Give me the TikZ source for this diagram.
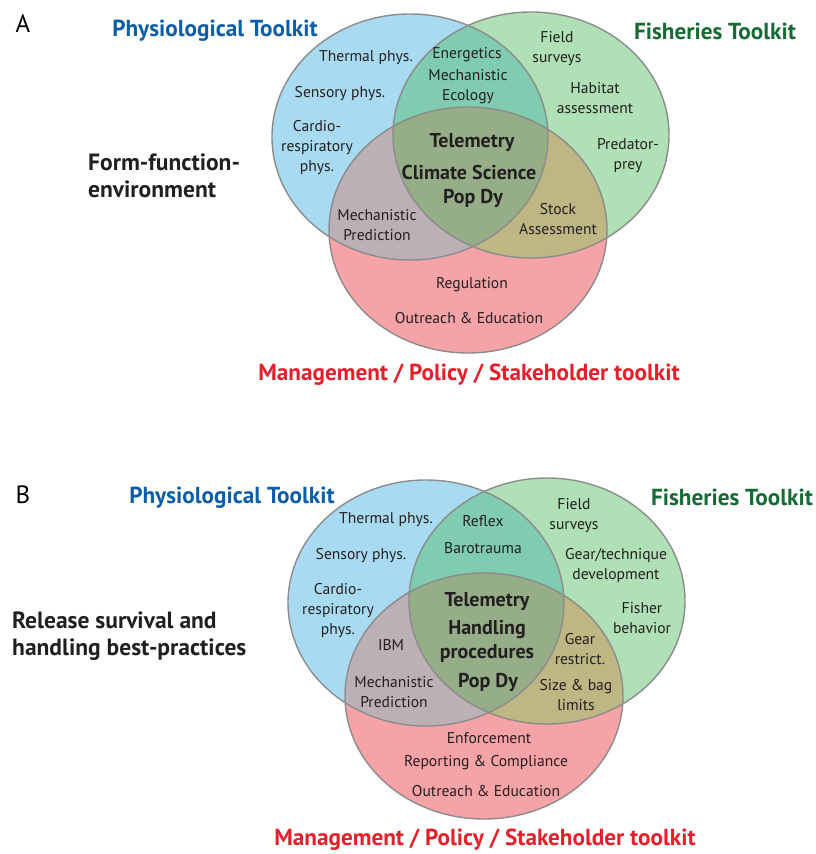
\documentclass[tikz,border=0pt]{standalone}
\usepackage{fontspec}
\setmainfont{PT Sans}
\usetikzlibrary{positioning}
\definecolor{physblue}{RGB}{168,219,241}
\definecolor{fishgreen}{RGB}{176,224,181}
\definecolor{mgmtred}{RGB}{245,163,166}
\definecolor{bluegreen}{RGB}{127,204,176}
\definecolor{bluered}{RGB}{188,176,182}
\definecolor{greenred}{RGB}{190,183,132}
\definecolor{allthree}{RGB}{150,174,135}
\definecolor{ringgray}{RGB}{140,140,140}
\definecolor{txtgray}{RGB}{35,31,32}
\definecolor{kitblue}{RGB}{12,94,170}
\definecolor{kitgreen}{RGB}{22,106,52}
\definecolor{kitred}{RGB}{232,30,42}

\newcommand{\physring}{(410,137) ellipse [x radius=138, y radius=123]}
\newcommand{\fishring}{(531,135) ellipse [x radius=138, y radius=123]}
\newcommand{\mgmtring}{(468,230) ellipse [x radius=139, y radius=123]}
\newcommand{\drawvenn}{%
	\fill[physblue] \physring;
	\fill[fishgreen] \fishring;
	\fill[mgmtred] \mgmtring;
	\begin{scope} \clip \physring; \fill[bluegreen] \fishring; \end{scope}
	\begin{scope} \clip \physring; \fill[bluered] \mgmtring; \end{scope}
	\begin{scope} \clip \fishring; \fill[greenred] \mgmtring; \end{scope}
	\begin{scope} \clip \physring; \clip \fishring; \fill[allthree] \mgmtring; \end{scope}
	\draw[ring] \physring;
	\draw[ring] \fishring;
	\draw[ring] \mgmtring;
}

\tikzset{
	ring/.style={draw=ringgray, line width=1.4pt},
	item/.style={text=txtgray, align=center, inner sep=0pt, font=\fontsize{15.6}{20}\selectfont},
	core/.style={text=txtgray, align=center, inner sep=0pt, font=\bfseries\fontsize{20}{27}\selectfont},
	kit/.style={inner sep=0pt, font=\bfseries\fontsize{23.2}{26}\selectfont},
	theme/.style={text=txtgray, align=left, anchor=west, inner sep=0pt, font=\bfseries\fontsize{23.5}{27}\selectfont},
	panel/.style={text=black, inner sep=0pt, font=\fontsize{25}{27}\selectfont}
}

\begin{document}
\begin{tikzpicture}[x=1pt,y=-1pt]
	\useasboundingbox[fill=white] (0,0) rectangle (816,854);

	% panel A
	\drawvenn
	\node[panel] (A) at (23,24) {A};
	\node[kit, text=kitblue] (physA) at (215,31) {Physiological Toolkit};
	\node[kit, text=kitgreen] (fishA) at (715,31) {Fisheries Toolkit};
	\node[kit, text=kitred] (mgmtA) at (469,375) {Management / Policy / Stakeholder toolkit};
	\node[theme] (themeA) at (88,176) {Form-function-\\environment};

	\node[item] (thermA) at (366,58) {Thermal phys.};
	\node[item] (sensA) at (340,94) {Sensory phys.};
	\node[item] (cardA) at (317,148) {Cardio-\\respiratory\\phys.};
	\node[item] (enerA) at (467,55) {Energetics};
	\node[item] (ecolA) at (468,87) {Mechanistic\\Ecology};
	\node[item] (fieldA) at (557,49) {Field\\surveys};
	\node[item] (habA) at (595,98) {Habitat\\assessment};
	\node[item] (predA) at (628,156) {Predator-\\prey};
	\node[core] (teleA) at (472,143) {Telemetry};
	\node[core] (climA) at (469,172) {Climate Science};
	\node[core] (popA) at (473,198) {Pop Dy};
	\node[item] (mechA) at (377,225) {Mechanistic\\Prediction};
	\node[item] (stockA) at (558,219) {Stock\\Assessment};
	\node[item] (regA) at (472,285) {Regulation};
	\node[item] (outA) at (469,318) {Outreach \& Education};

	% panel B
	\begin{scope}[shift={(16,466)}]
		\drawvenn
	\end{scope}
	\node[panel] (B) at (23,495) {B};
	\node[kit, text=kitblue] (physB) at (232,498) {Physiological Toolkit};
	\node[kit, text=kitgreen] (fishB) at (732,497) {Fisheries Toolkit};
	\node[kit, text=kitred] (mgmtB) at (485,840) {Management / Policy / Stakeholder toolkit};
	\node[theme] (themeB) at (12,636) {Release survival and\\handling best-practices};

	\node[item] (thermB) at (386,520) {Thermal phys.};
	\node[item] (sensB) at (361,556) {Sensory phys.};
	\node[item] (cardB) at (338,611) {Cardio-\\respiratory\\phys.};
	\node[item] (reflB) at (483,521) {Reflex};
	\node[item] (baroB) at (483,548) {Barotrauma};
	\node[item] (fieldB) at (574,516) {Field\\surveys};
	\node[item] (gearB) at (616,565) {Gear/technique\\development};
	\node[item] (fishbB) at (642,618) {Fisher\\behavior};
	\node[core] (teleB) at (487,602) {Telemetry};
	\node[core] (handB) at (487,630) {Handling};
	\node[core] (procB) at (487,653) {procedures};
	\node[core] (popB) at (488,682) {Pop Dy};
	\node[item] (ibmB) at (391,645) {IBM};
	\node[item] (mechB) at (394,692) {Mechanistic\\Prediction};
	\node[item] (restB) at (580,649) {Gear\\restrict.};
	\node[item] (bagB) at (576,695) {Size \& bag\\limits};
	\node[item] (enfB) at (489,738) {Enforcement};
	\node[item] (repB) at (486,763) {Reporting \& Compliance};
	\node[item] (outB) at (486,791) {Outreach \& Education};
\end{tikzpicture}
\end{document}
